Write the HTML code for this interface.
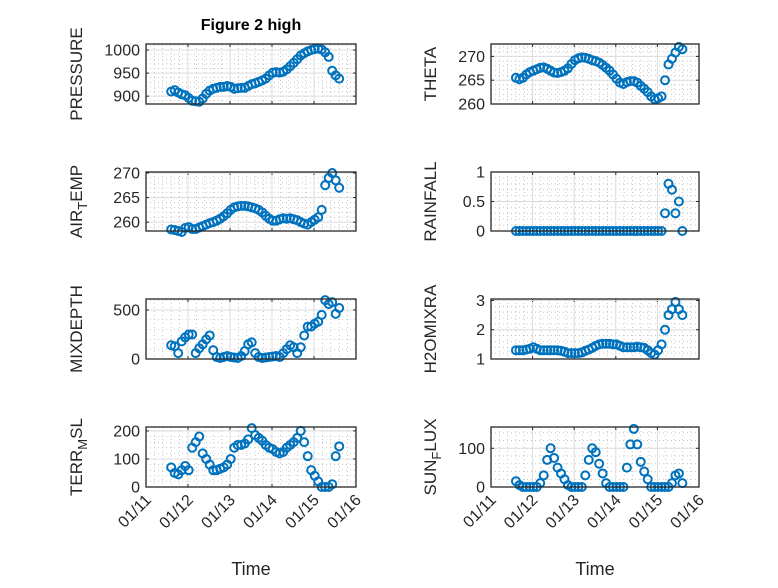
<!DOCTYPE html>
<html><head><meta charset="utf-8"><style>
body{margin:0;background:#fff}
svg text{font-family:"Liberation Sans",sans-serif;fill:#262626}
</style></head><body>
<svg id="fig" width="778" height="583" viewBox="0 0 778 583" xmlns="http://www.w3.org/2000/svg">
<rect width="778" height="583" fill="#fff"/>
<text x="251" y="30" text-anchor="middle" font-size="16" font-weight="bold" style="fill:#000">Figure 2 high</text>
<g id="plots"></g>
</svg>
<script>
const t0 = 11.6;
const xTickLabels = ["01/11","01/12","01/13","01/14","01/15","01/16"];
const xTickDays = [11,12,13,14,15,16];
const pressure = [910,913,908,904,902,896,890,889,888,895,905,912,916,918,920,920,922,920,916,917,918,918,922,926,928,931,934,938,945,951,952,951,953,958,965,972,980,988,993,997,1000,1002,1003,1001,995,985,955,945,938];
const theta = [265.5,265.2,265.5,266.2,266.7,267,267.3,267.6,267.7,267.4,267,266.6,266.5,266.7,267,267.5,268.4,269.2,269.6,269.8,269.7,269.5,269.2,269,268.7,268.2,267.6,267,266.2,265.3,264.5,264.2,264.6,264.8,264.8,264.5,263.8,263.2,262.5,261.6,261,261.2,261.6,265,268.3,269.5,270.8,272,271.5];
const airTemp = [258.5,258.4,258.2,258,258.8,259,258.6,258.6,258.9,259.2,259.5,259.8,260,260.3,260.7,261.2,261.8,262.5,263,263.2,263.3,263.3,263.2,263,262.8,262.5,262,261.3,260.7,260.3,260.3,260.6,260.8,260.7,260.8,260.6,260.4,260,259.7,259.5,260,260.5,261,262.5,267.5,269,270,268.5,267];
const rainfall = [0,0,0,0,0,0,0,0,0,0,0,0,0,0,0,0,0,0,0,0,0,0,0,0,0,0,0,0,0,0,0,0,0,0,0,0,0,0,0,0,0,0,0,0.3,0.8,0.7,0.3,0.5,0];
const mixDepth = [140,130,60,180,220,250,250,60,110,150,200,240,90,20,10,20,30,20,15,10,30,80,150,170,60,20,10,15,20,25,30,20,60,100,140,120,60,120,240,330,330,360,380,450,600,560,580,460,520];
const h2o = [1.3,1.3,1.3,1.32,1.35,1.4,1.35,1.3,1.3,1.3,1.3,1.3,1.3,1.28,1.25,1.2,1.2,1.2,1.2,1.22,1.28,1.32,1.38,1.45,1.5,1.52,1.52,1.52,1.5,1.5,1.45,1.4,1.4,1.4,1.4,1.42,1.4,1.38,1.3,1.2,1.15,1.3,1.5,2.0,2.5,2.7,2.95,2.7,2.5];
const terrMsl = [70,50,45,60,75,60,140,160,180,120,100,80,60,60,65,70,80,100,140,150,150,155,170,210,185,175,165,150,140,135,125,120,125,140,150,160,175,200,160,110,60,40,20,0,0,0,10,110,145];
const sunFlux = [15,5,0,0,0,0,0,10,30,70,100,75,50,35,20,5,0,0,0,0,30,70,100,90,60,35,10,0,0,0,0,0,50,110,150,110,65,40,20,0,0,0,0,0,0,10,30,35,10];

const NS='http://www.w3.org/2000/svg';
const root=document.getElementById('plots');
function mk(tag,attrs,parent){const e=document.createElementNS(NS,tag);for(const k in attrs)e.setAttribute(k,attrs[k]);(parent||root).appendChild(e);return e;}

const panels=[
 {name:'pressure',data:pressure,x0:146,x1:356,y0:44,y1:104,ymin:883,ymax:1013,ticks:[900,950,1000],minor:10,label:['PRESSURE'],lx:82},
 {name:'theta',data:theta,x0:491,x1:699,y0:44,y1:104,ymin:260,ymax:272.6,ticks:[260,265,270],minor:1,label:['THETA'],lx:436},
 {name:'air-temp',data:airTemp,x0:146,x1:356,y0:172,y1:231,ymin:258.2,ymax:270.2,ticks:[260,265,270],minor:1,label:['AIR','T','EMP'],lx:82},
 {name:'rainfall',data:rainfall,x0:491,x1:699,y0:172,y1:231,ymin:0,ymax:1,ticks:[0,0.5,1],minor:0.1,label:['RAINFALL'],lx:436},
 {name:'mixdepth',data:mixDepth,x0:146,x1:356,y0:299,y1:359,ymin:0,ymax:612,ticks:[0,500],minor:100,label:['MIXDEPTH'],lx:82},
 {name:'h2omixra',data:h2o,x0:491,x1:699,y0:299,y1:359,ymin:1,ymax:3.05,ticks:[1,2,3],minor:0.2,label:['H2OMIXRA'],lx:436},
 {name:'terr-msl',data:terrMsl,x0:146,x1:356,y0:427,y1:487,ymin:0,ymax:214,ticks:[0,100,200],minor:20,label:['TERR','M','SL'],lx:82,bottom:true},
 {name:'sun-flux',data:sunFlux,x0:491,x1:699,y0:427,y1:487,ymin:0,ymax:155,ticks:[0,100],minor:20,label:['SUN','F','LUX'],lx:436,bottom:true}
];

panels.forEach(p=>{
  const g=mk('g',{});
  
  
  const xs=d=>p.x0+(d-11)/5*(p.x1-p.x0);
  const ys=v=>p.y1-(v-p.ymin)/(p.ymax-p.ymin)*(p.y1-p.y0);
  mk('rect',{x:p.x0,y:p.y0,width:p.x1-p.x0,height:p.y1-p.y0,fill:'#fff'},g);
  for(let d=11;d<16;d+=0.2){const x=xs(d);if(Math.abs((d-Math.round(d)))<0.01)continue;
    mk('line',{x1:x,x2:x,y1:p.y0,y2:p.y1,stroke:'#bbb','stroke-width':0.8,'stroke-dasharray':'1 3'},g);}
  for(let v=Math.ceil(p.ymin/p.minor)*p.minor;v<=p.ymax;v+=p.minor){const y=ys(v);
    mk('line',{x1:p.x0,x2:p.x1,y1:y,y2:y,stroke:'#bbb','stroke-width':0.8,'stroke-dasharray':'1 3'},g);}
  xTickDays.forEach(d=>{const x=xs(d);mk('line',{x1:x,x2:x,y1:p.y0,y2:p.y1,stroke:'#dcdcdc','stroke-width':1},g);
    mk('line',{x1:x,x2:x,y1:p.y1,y2:p.y1-3,stroke:'#262626'},g);mk('line',{x1:x,x2:x,y1:p.y0,y2:p.y0+3,stroke:'#262626'},g);});
  p.ticks.forEach(v=>{const y=ys(v);mk('line',{x1:p.x0,x2:p.x1,y1:y,y2:y,stroke:'#dcdcdc','stroke-width':1},g);
    mk('line',{x1:p.x0,x2:p.x0+3,y1:y,y2:y,stroke:'#262626'},g);mk('line',{x1:p.x1,x2:p.x1-3,y1:y,y2:y,stroke:'#262626'},g);
    const tl=mk('text',{x:p.x0-6,y:y+5.5,'text-anchor':'end','font-size':16},g);tl.textContent=String(v);
    
    });
  p.data.forEach((v,i)=>{
    const c=mk('circle',{cx:xs(t0+i/12),cy:ys(v),r:4,fill:'none',stroke:'#0072BD','stroke-width':2},g);
    
    
  });
  mk('rect',{x:p.x0,y:p.y0,width:p.x1-p.x0,height:p.y1-p.y0,fill:'none',stroke:'#262626','stroke-width':1.3},g);
  const cy=(p.y0+p.y1)/2;
  const lab=mk('text',{x:0,y:0,'text-anchor':'middle','font-size':17,transform:`translate(${p.lx},${cy}) rotate(-90)`},g);
  
  
  if(p.label.length===1){lab.textContent=p.label[0];}
  else{const a=mk('tspan',{},lab);a.textContent=p.label[0];
    const b=mk('tspan',{dy:5,'font-size':13},lab);b.textContent=p.label[1];
    const c=mk('tspan',{dy:-5},lab);c.textContent=p.label[2];}
  if(p.bottom){
    xTickDays.forEach((d,k)=>{const x=xs(d);
      const tl=mk('text',{x:0,y:0,'text-anchor':'end','font-size':16,transform:`translate(${x+6},${p.y1+14}) rotate(-45)`},g);
      tl.textContent=xTickLabels[k];
      
      });
    const xt=mk('text',{x:(p.x0+p.x1)/2,y:575,'text-anchor':'middle','font-size':18},g);
    xt.textContent='Time';
    
    
  }
});
</script>
</body></html>
